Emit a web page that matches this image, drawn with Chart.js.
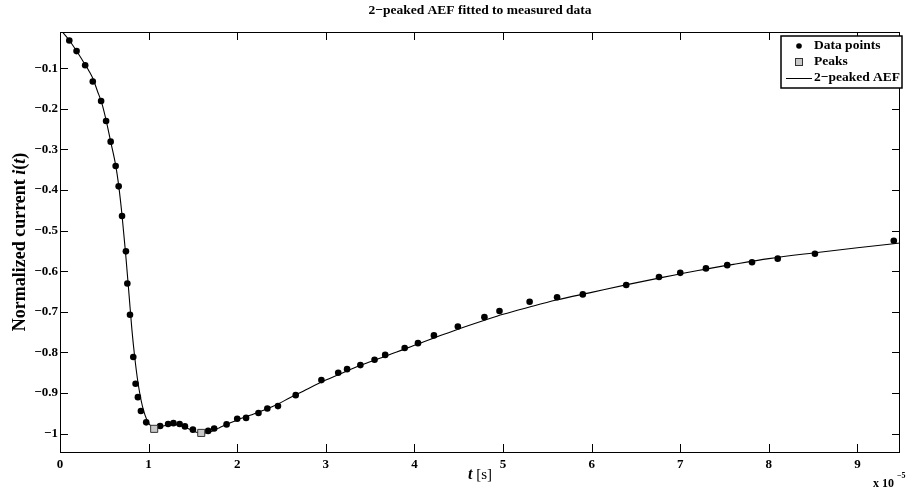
<!DOCTYPE html>
<html>
<head>
<meta charset="utf-8">
<script src="https://cdn.jsdelivr.net/npm/chart.js@4"></script>
<style>
  html, body { margin: 0; padding: 0; background: #fff; }
  #wrap { width: 906px; height: 489px; }
</style>
</head>
<body>
<div id="wrap"><canvas id="chart" width="906" height="489"></canvas></div>
<script>
// measured points (t in units of 1e-5 s)
const dataX = [0.105, 0.187, 0.284, 0.37, 0.464, 0.52, 0.572, 0.628, 0.662, 0.70, 0.744, 0.76, 0.79,
  0.827, 0.853, 0.879, 0.913, 0.973, 1.13, 1.22, 1.28, 1.35, 1.41, 1.50, 1.672, 1.74, 1.88, 2.0, 2.10,
  2.24, 2.34, 2.46, 2.66, 2.95, 3.14, 3.24, 3.39, 3.55, 3.67, 3.89, 4.04, 4.22, 4.49, 4.79, 4.96, 5.30,
  5.61, 5.90, 6.39, 6.76, 7.00, 7.29, 7.53, 7.81, 8.10, 8.52, 9.41];
const dataY = [-0.032, -0.058, -0.093, -0.133, -0.181, -0.230, -0.281, -0.341, -0.391, -0.464, -0.551, -0.630, -0.707,
  -0.811, -0.877, -0.910, -0.944, -0.972, -0.981, -0.976, -0.974, -0.976, -0.982, -0.990, -0.993, -0.987, -0.977, -0.963, -0.961,
  -0.949, -0.938, -0.932, -0.905, -0.868, -0.850, -0.841, -0.831, -0.818, -0.806, -0.789, -0.777, -0.758, -0.736, -0.713, -0.698, -0.675,
  -0.664, -0.657, -0.634, -0.614, -0.604, -0.593, -0.585, -0.578, -0.569, -0.557, -0.525];

// the two peaks
const peakX = [1.063, 1.594];
const peakY = [-0.988, -0.998];

// fitted 2-peaked AEF curve
const fitX = [0, 0.1, 0.2, 0.28, 0.33, 0.37, 0.42, 0.47, 0.52, 0.57, 0.63, 0.66, 0.70, 0.74, 0.78, 0.81, 0.84,
  0.88, 0.93, 0.99, 1.05, 1.1, 1.15, 1.2, 1.28, 1.35, 1.45, 1.55, 1.6, 1.7, 1.8, 2.0, 2.2, 2.4, 2.6, 2.8,
  3.0, 3.2, 3.4, 3.6, 3.8, 4.0, 4.25, 4.5, 4.8, 5.0, 5.3, 5.6, 6.0, 6.4, 6.8, 7.2, 7.6, 8.0, 8.5, 9.0, 9.5];
const fitY = [-0.004, -0.030, -0.062, -0.090, -0.108, -0.125, -0.155, -0.185, -0.228, -0.279, -0.341, -0.385, -0.462, -0.555, -0.660, -0.740, -0.805,
  -0.874, -0.932, -0.970, -0.984, -0.985, -0.982, -0.979, -0.977, -0.979, -0.988, -0.997, -0.999, -0.995, -0.985, -0.966, -0.950, -0.933, -0.911, -0.889,
  -0.868, -0.849, -0.831, -0.815, -0.799, -0.782, -0.762, -0.742, -0.720, -0.706, -0.688, -0.671, -0.652, -0.633, -0.615, -0.598, -0.583, -0.569, -0.555, -0.542, -0.530];

const xTicks = [0, 1, 2, 3, 4, 5, 6, 7, 8, 9];
const yTicks = [-1, -0.9, -0.8, -0.7, -0.6, -0.5, -0.4, -0.3, -0.2, -0.1];

const serif = "'Liberation Serif', 'Times New Roman', serif";

function pts(xs, ys) {
  return xs.map((x, i) => ({ x: x, y: ys[i] }));
}
function minusSign(v) {
  return String(v).replace('-', '\u2212');
}

// box, inward ticks, title, axis labels, legend
const decorPlugin = {
  id: 'decor',
  afterDraw(chart) {
    const ctx = chart.ctx;
    const a = chart.chartArea;
    const xs = chart.scales.x, ys = chart.scales.y;
    ctx.save();
    ctx.strokeStyle = '#000';
    ctx.lineWidth = 1;
    ctx.strokeRect(a.left + 0.5, a.top + 0.5, a.right - a.left - 1, a.bottom - a.top);

    // tick marks pointing inward
    ctx.beginPath();
    xTicks.forEach(v => {
      const px = Math.round(xs.getPixelForValue(v)) + 0.5;
      ctx.moveTo(px, a.bottom); ctx.lineTo(px, a.bottom - 8);
      ctx.moveTo(px, a.top); ctx.lineTo(px, a.top + 8);
    });
    yTicks.forEach(v => {
      const py = Math.round(ys.getPixelForValue(v)) + 0.5;
      ctx.moveTo(a.left, py); ctx.lineTo(a.left + 8, py);
      ctx.moveTo(a.right, py); ctx.lineTo(a.right - 8, py);
    });
    ctx.stroke();

    ctx.fillStyle = '#000';
    // title
    ctx.font = 'bold 13.5px ' + serif;
    ctx.textAlign = 'center';
    ctx.textBaseline = 'middle';
    ctx.fillText('2\u2212peaked AEF fitted to measured data', (a.left + a.right) / 2, 11);

    // x label: t [s]
    ctx.textBaseline = 'alphabetic';
    ctx.textAlign = 'left';
    const f1 = 'italic bold 16px ' + serif, f2 = '15px ' + serif;
    ctx.font = f1; const w1 = ctx.measureText('t').width;
    ctx.font = f2; const w2 = ctx.measureText(' [s]').width;
    let sx = (a.left + a.right) / 2 - (w1 + w2) / 2;
    ctx.font = f1; ctx.fillText('t', sx, 479);
    ctx.font = f2; ctx.fillText(' [s]', sx + w1, 479);

    // exponent
    ctx.font = 'bold 12px ' + serif;
    ctx.fillText('x 10', 873, 487);
    ctx.font = 'bold 8px ' + serif;
    ctx.fillText('\u22125', 897, 478);

    // y label
    const parts = [
      ['Normalized current ', 'bold 18px ' + serif],
      ['i', 'italic bold 18px ' + serif],
      ['(', 'bold 18px ' + serif],
      ['t', 'italic bold 18px ' + serif],
      [')', 'bold 18px ' + serif]
    ];
    let total = 0;
    parts.forEach(p => { ctx.font = p[1]; total += ctx.measureText(p[0]).width; });
    ctx.translate(25, (a.top + a.bottom) / 2);
    ctx.rotate(-Math.PI / 2);
    let cx = -total / 2;
    parts.forEach(p => {
      ctx.font = p[1];
      ctx.fillText(p[0], cx, 0);
      cx += ctx.measureText(p[0]).width;
    });
    ctx.setTransform(1, 0, 0, 1, 0, 0);

    // legend
    const lx = 781, ly = 36, lw = 121, lh = 52;
    ctx.fillStyle = '#fff';
    ctx.fillRect(lx, ly, lw, lh);
    ctx.lineWidth = 1.5;
    ctx.strokeStyle = '#000';
    ctx.strokeRect(lx, ly, lw, lh);
    ctx.font = 'bold 13.5px ' + serif;
    ctx.textBaseline = 'middle';
    ctx.fillStyle = '#000';
    ctx.fillText('Data points', lx + 33, ly + 10);
    ctx.fillText('Peaks', lx + 33, ly + 26);
    ctx.fillText('2\u2212peaked AEF', lx + 33, ly + 42);
    ctx.beginPath();
    ctx.arc(lx + 18, ly + 10, 2.8, 0, Math.PI * 2);
    ctx.fill();
    ctx.fillStyle = '#c8c8c8';
    ctx.fillRect(lx + 14, ly + 22, 8, 8);
    ctx.lineWidth = 1;
    ctx.strokeStyle = '#333';
    ctx.strokeRect(lx + 14.5, ly + 22.5, 7, 7);
    ctx.beginPath();
    ctx.strokeStyle = '#000';
    ctx.moveTo(lx + 5, ly + 42.5);
    ctx.lineTo(lx + 31, ly + 42.5);
    ctx.stroke();
    ctx.restore();
  }
};

new Chart(document.getElementById('chart'), {
  type: 'scatter',
  data: {
    datasets: [
      {
        label: 'Data points',
        data: pts(dataX, dataY),
        pointRadius: 3.3,
        pointBackgroundColor: '#000',
        pointBorderWidth: 0,
        showLine: false,
        order: 2
      },
      {
        label: '2-peaked AEF',
        data: pts(fitX, fitY),
        showLine: true,
        borderColor: '#000',
        borderWidth: 1.1,
        pointRadius: 0,
        cubicInterpolationMode: 'monotone',
        order: 1
      },
      {
        label: 'Peaks',
        data: pts(peakX, peakY),
        pointStyle: 'rect',
        pointRadius: 5,
        pointBackgroundColor: '#c8c8c8',
        pointBorderColor: '#333',
        pointBorderWidth: 1,
        showLine: false,
        order: 0
      }
    ]
  },
  options: {
    responsive: false,
    animation: false,
    layout: { padding: { top: 32, right: 1, left: 0, bottom: 0 } },
    plugins: { legend: { display: false }, tooltip: { enabled: false } },
    scales: {
      x: {
        type: 'linear',
        min: 0,
        max: 9.48,
        afterBuildTicks: s => { s.ticks = xTicks.map(v => ({ value: v })); },
        afterFit: s => { s.height = 37; },
        grid: { display: false, drawTicks: false },
        border: { display: false },
        ticks: {
          padding: 5,
          color: '#000',
          font: { family: serif, size: 13, weight: 'bold' },
          maxRotation: 0,
          callback: v => minusSign(v)
        }
      },
      y: {
        type: 'linear',
        min: -1.045,
        max: -0.011,
        afterBuildTicks: s => { s.ticks = yTicks.map(v => ({ value: v })); },
        afterFit: s => { s.width = 60; },
        grid: { display: false, drawTicks: false },
        border: { display: false },
        ticks: {
          padding: 2,
          color: '#000',
          font: { family: serif, size: 13, weight: 'bold' },
          callback: v => minusSign(v)
        }
      }
    }
  },
  plugins: [decorPlugin]
});
</script>
</body>
</html>
